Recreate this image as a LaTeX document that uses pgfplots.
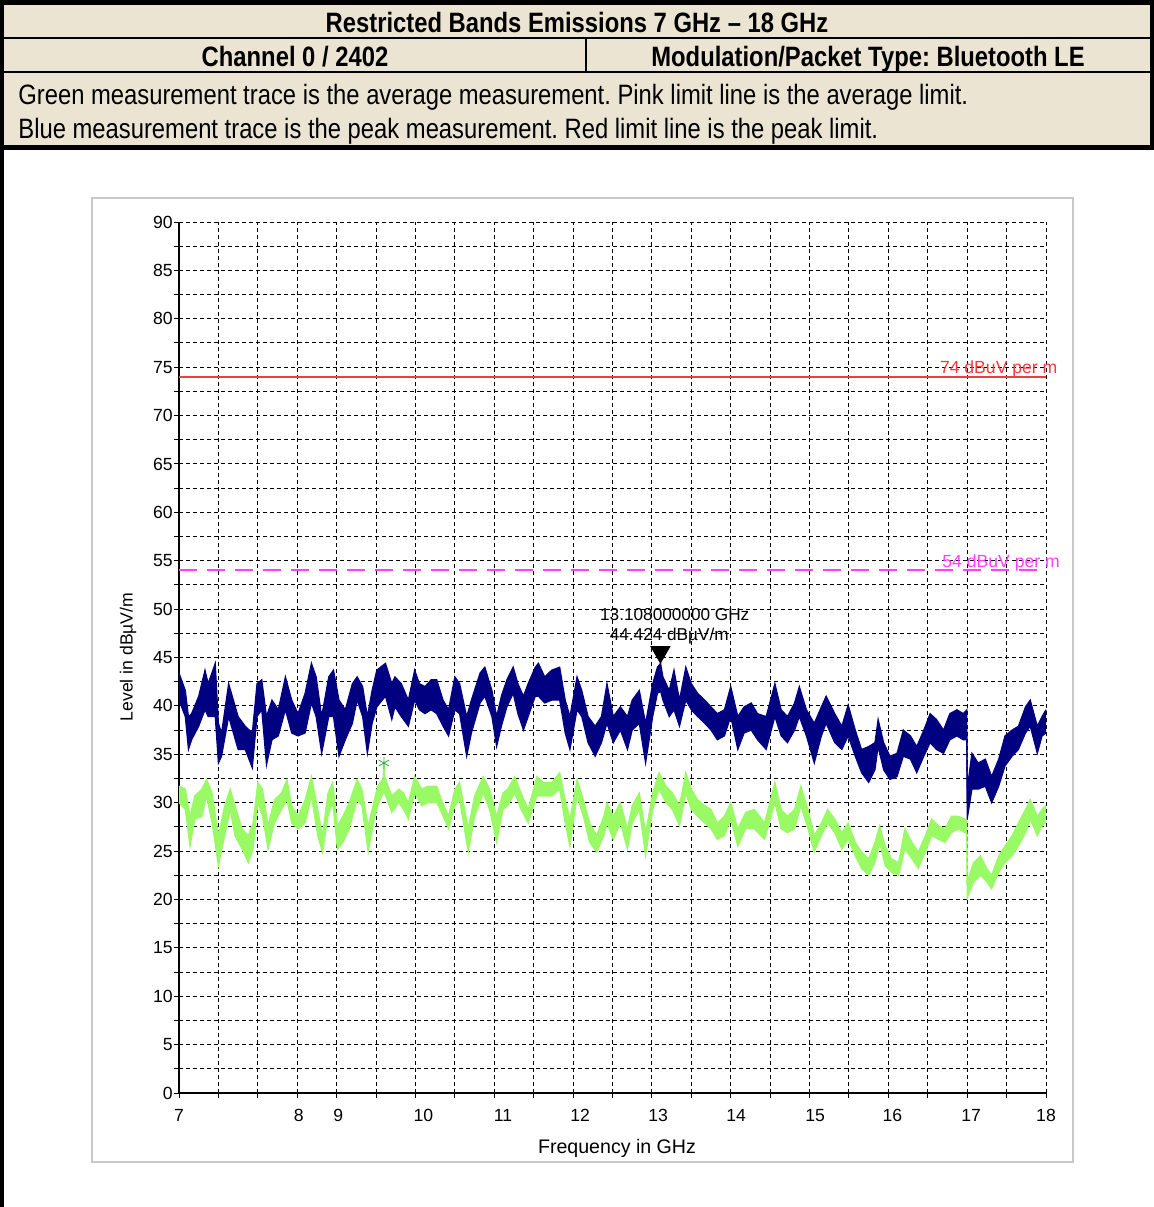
\documentclass[border=0pt]{standalone}
\usepackage{pgfplots}
\pgfplotsset{compat=1.18}
\usepackage{pgfplotstable}
\usepgfplotslibrary{fillbetween}
\usepackage{fontspec}
\setmainfont{Liberation Sans}
\newfontfamily\narrow[FakeStretch=0.85]{Liberation Sans}
\frenchspacing

\definecolor{hdr}{RGB}{236,228,210}
\definecolor{peakblue}{RGB}{0,0,128}
\definecolor{avggreen}{RGB}{153,250,102}
\definecolor{limred}{RGB}{240,60,60}
\definecolor{limpink}{RGB}{255,64,255}
\definecolor{framegray}{RGB}{200,200,200}
\definecolor{stargreen}{RGB}{60,170,60}

\pgfplotstableread{
x t b
7.00 43.4 40.6
7.08 41.6 38.9
7.12 38.9 35.5
7.16 39.2 36.5
7.25 41.0 37.9
7.33 43.7 39.6
7.37 42.3 38.9
7.46 44.4 38.9
7.50 38.2 34.1
7.54 37.2 34.8
7.63 42.3 38.9
7.69 40.6 37.2
7.75 38.9 35.5
7.84 37.9 35.5
7.93 37.2 33.6
7.99 42.3 38.9
8.05 42.7 39.6
8.11 38.9 33.9
8.18 40.6 36.5
8.26 39.6 36.9
8.35 43.0 39.6
8.43 40.6 37.2
8.51 39.2 36.9
8.60 41.3 37.2
8.68 44.4 40.3
8.74 43.0 38.9
8.81 38.9 35.1
8.90 43.0 38.9
8.96 43.7 38.9
9.03 40.6 34.8
9.11 39.6 36.5
9.20 42.3 38.2
9.26 43.0 40.6
9.33 42.0 38.9
9.39 38.9 35.1
9.45 41.6 38.2
9.51 43.7 39.9
9.62 44.4 41.0
9.70 42.3 38.6
9.74 43.0 39.9
9.82 42.3 38.9
9.91 40.6 37.9
9.99 43.7 40.6
10.05 42.3 39.6
10.12 42.0 39.2
10.20 42.7 39.6
10.27 42.7 39.2
10.35 40.6 37.9
10.42 39.6 36.9
10.50 43.0 39.6
10.56 42.3 39.2
10.65 38.9 34.8
10.71 40.6 37.2
10.82 43.4 40.3
10.88 44.0 41.0
10.97 41.6 38.9
11.03 38.9 35.8
11.09 41.0 37.9
11.16 42.7 39.9
11.24 44.0 41.3
11.30 42.3 39.2
11.37 41.0 37.5
11.43 42.3 38.9
11.52 44.0 41.0
11.56 44.4 41.0
11.64 43.0 40.3
11.73 43.7 40.6
11.83 44.0 40.6
11.90 40.6 37.2
11.96 38.9 35.5
12.05 43.0 39.6
12.11 41.6 38.9
12.19 38.9 36.2
12.28 37.9 34.8
12.36 38.9 36.2
12.43 42.3 38.2
12.51 38.9 36.2
12.60 39.9 37.5
12.69 38.9 35.5
12.75 40.6 37.5
12.84 41.6 38.2
12.92 38.2 34.1
13.01 42.3 38.9
13.07 44.0 41.3
13.11 44.4 41.5
13.14 43.0 40.6
13.22 41.6 38.9
13.28 43.7 39.6
13.35 40.6 37.9
13.43 44.0 40.6
13.50 42.3 39.6
13.58 41.3 38.9
13.67 40.6 38.2
13.75 39.9 37.5
13.83 39.2 36.5
13.92 39.6 36.9
14.00 42.0 38.9
14.09 38.9 35.5
14.17 39.9 37.2
14.26 40.3 37.5
14.34 39.2 36.5
14.45 38.9 35.5
14.56 42.3 38.9
14.64 39.6 36.9
14.72 38.9 36.2
14.81 40.3 37.5
14.87 42.0 38.9
14.96 39.6 36.9
15.06 38.2 34.1
15.15 39.9 36.9
15.21 41.0 38.2
15.32 39.2 36.2
15.41 37.9 35.5
15.49 40.1 36.9
15.58 37.5 34.8
15.66 35.5 33.1
15.75 35.8 32.1
15.83 36.2 33.4
15.87 38.6 35.8
15.94 36.2 33.4
16.02 34.8 32.4
16.11 35.1 32.7
16.19 37.5 34.8
16.28 36.9 34.5
16.36 35.8 33.1
16.45 37.5 34.8
16.53 39.2 36.2
16.61 38.6 35.5
16.70 37.5 35.1
16.78 39.2 36.5
16.87 39.6 36.9
16.95 39.2 36.5
16.995 39.6 36.5
17.00 31.4 28.3
17.06 35.1 31.4
17.14 34.1 31.4
17.23 34.5 31.7
17.31 32.7 30.0
17.40 34.5 31.7
17.48 36.9 33.8
17.57 37.5 34.8
17.65 37.9 35.5
17.74 39.9 37.2
17.80 40.6 37.9
17.89 37.9 35.1
17.95 38.9 36.9
18.00 39.6 37.2
}\peak

\pgfplotstableread{
x t b
7.00 31.7 30.0
7.08 31.4 29.3
7.14 28.6 25.5
7.20 30.7 28.3
7.29 31.4 28.6
7.35 32.4 30.7
7.42 31.0 27.9
7.50 26.6 23.5
7.58 29.7 26.6
7.65 31.4 29.3
7.71 29.7 26.6
7.80 27.3 25.2
7.88 26.6 23.8
7.94 27.9 25.2
8.00 32.1 30.0
8.06 31.4 28.6
8.13 27.6 25.2
8.21 30.3 27.9
8.30 31.0 29.3
8.37 32.4 30.3
8.43 29.7 27.9
8.51 28.6 27.3
8.60 30.3 27.9
8.68 32.7 30.7
8.76 29.3 26.6
8.82 26.6 24.9
8.89 31.0 28.6
8.95 32.1 30.0
9.01 27.6 25.2
9.08 28.6 25.9
9.16 30.0 27.3
9.26 32.4 30.3
9.32 31.4 29.7
9.40 27.6 24.9
9.47 30.0 28.0
9.52 31.7 29.7
9.59 32.5 31.0
9.60 34.1 31.0
9.61 32.7 31.0
9.70 30.7 29.0
9.79 31.4 30.0
9.85 31.0 29.3
9.91 30.0 28.3
9.99 32.7 31.0
10.08 31.4 29.7
10.16 31.7 30.0
10.27 31.7 30.0
10.33 30.3 29.0
10.42 28.6 27.3
10.50 31.4 29.7
10.56 32.1 30.3
10.67 27.3 24.9
10.75 30.7 28.6
10.86 32.7 31.0
10.94 31.4 29.3
11.03 28.6 25.9
11.11 31.0 29.3
11.17 31.4 29.7
11.26 32.7 31.0
11.34 31.0 29.3
11.43 29.3 27.9
11.54 32.7 30.7
11.62 32.1 30.7
11.73 32.1 30.7
11.83 33.1 31.4
11.90 30.3 27.9
11.96 28.3 25.5
12.05 32.4 30.7
12.13 30.3 28.6
12.21 27.9 25.9
12.30 26.6 24.9
12.39 28.6 26.6
12.43 30.0 27.9
12.51 28.6 26.2
12.60 30.0 27.9
12.69 27.3 25.2
12.75 29.7 27.9
12.84 31.0 29.3
12.92 26.9 24.5
13.01 31.0 29.3
13.09 33.1 31.4
13.18 31.7 30.0
13.26 31.0 29.3
13.35 29.7 27.6
13.43 33.1 31.0
13.50 31.4 29.3
13.58 30.3 28.6
13.67 29.7 27.9
13.75 29.3 27.3
13.83 27.9 26.2
13.92 28.6 26.6
14.00 30.0 28.3
14.09 27.3 25.5
14.19 29.0 27.3
14.30 29.3 27.3
14.43 27.9 26.2
14.56 32.1 30.0
14.64 29.3 27.3
14.72 28.6 26.9
14.81 29.3 27.3
14.89 31.7 29.7
14.98 29.3 27.3
15.06 26.6 24.9
15.15 27.9 26.6
15.23 29.3 27.9
15.32 28.3 26.9
15.41 26.9 25.2
15.49 27.9 26.2
15.58 25.9 24.5
15.66 24.9 23.2
15.75 24.2 22.5
15.83 25.9 23.8
15.89 27.6 25.9
15.96 25.5 23.5
16.04 24.2 22.8
16.13 23.8 22.5
16.21 27.3 25.2
16.30 25.9 24.2
16.38 24.9 23.2
16.47 26.6 24.9
16.55 28.3 26.6
16.64 27.6 26.2
16.72 27.3 25.9
16.80 28.6 26.9
16.89 28.6 27.3
16.97 28.3 26.9
16.995 28.3 26.9
17.00 21.8 20.1
17.08 23.8 21.8
17.17 24.5 22.5
17.25 23.2 21.8
17.31 22.5 21.1
17.40 24.5 22.8
17.48 25.5 23.8
17.57 26.6 24.5
17.65 27.9 25.5
17.74 29.3 26.9
17.80 30.3 28.3
17.89 28.6 26.6
17.95 29.3 27.6
18.00 29.7 28.0
}\avg

\begin{document}
\begin{tikzpicture}
\begin{scope}[x=0.5pt, y=-0.5pt]
\path[use as bounding box] (0,0) rectangle (1154,1207);
% header
\fill[hdr] (0,0) rectangle (1154,147);
\fill[black] (0,0) rectangle (1154,5);
\fill[black] (0,0) rectangle (4,1207);
\fill[black] (1150,0) rectangle (1154,150);
\fill[black] (0,145) rectangle (1154,150);
\fill[black] (0,37) rectangle (1154,39);
\fill[black] (0,71) rectangle (1154,73);
\fill[black] (585,37) rectangle (587,73);
\node[anchor=base, inner sep=0pt, font=\narrow\bfseries\fontsize{14}{16}\selectfont] at (577,32) {Restricted Bands Emissions 7 GHz – 18 GHz};
\node[anchor=base, inner sep=0pt, font=\narrow\bfseries\fontsize{14}{16}\selectfont] at (295,66) {Channel 0 / 2402};
\node[anchor=base, inner sep=0pt, font=\narrow\bfseries\fontsize{14}{16}\selectfont] at (868,66) {Modulation/Packet Type: Bluetooth LE};
\node[anchor=base west, inner sep=0pt, font=\narrow\fontsize{14}{16}\selectfont] at (18,104) {Green measurement trace is the average measurement. Pink limit line is the average limit.};
\node[anchor=base west, inner sep=0pt, font=\narrow\fontsize{14}{16}\selectfont] at (18,138) {Blue measurement trace is the peak measurement. Red limit line is the peak limit.};
% chart frame
\draw[framegray, line width=1pt] (92,198) rectangle (1073,1162);
\node[rotate=90, inner sep=0pt, font=\fontsize{8.8}{10}\selectfont] at (128,657) {Level in dBµV/m};
\node[inner sep=0pt, font=\fontsize{9.8}{11}\selectfont] at (617,1148) {Frequency in GHz};
\end{scope}

\begin{axis}[
  at={(89.5pt,-546.5pt)}, anchor=south west,
  width=433.5pt, height=435.5pt, scale only axis,
  xmin=7, xmax=18, ymin=0, ymax=90,
  axis lines=left, axis line style={-, line width=0.6pt, black},
  xtick={7,7.5,...,18},
  xticklabels={},
  extra x ticks={7,8.52,9.02,10.10,11.11,12.09,13.08,14.07,15.07,16.05,17.05,18},
  extra x tick labels={7,8,9,10,11,12,13,14,15,16,17,18},
  extra x tick style={grid=none, major tick length=0pt},
  ytick={0,5,...,90},
  minor ytick={2.5,7.5,...,87.5},
  grid=both,
  major grid style={black, dash pattern=on 2pt off 1.5pt, line width=0.5pt},
  minor grid style={black, dash pattern=on 2pt off 1.5pt, line width=0.5pt},
  tick style={black, line width=0.5pt},
  major tick length=2.5pt, minor tick length=2.5pt,
  tick align=outside,
  ticklabel style={font=\fontsize{8.8}{10}\selectfont},
  yticklabel style={inner sep=0.5pt},
  xticklabel style={yshift=-4.7pt},
  /pgf/number format/assume math mode=true,
  clip=false,
]
\addplot[name path=gt, draw=avggreen, line width=0.6pt] table[x=x,y=t]{\avg};
\addplot[name path=gb, draw=avggreen, line width=0.6pt] table[x=x,y=b]{\avg};
\addplot[avggreen] fill between[of=gt and gb];
\addplot[name path=bt, draw=peakblue, line width=0.6pt] table[x=x,y=t]{\peak};
\addplot[name path=bb, draw=peakblue, line width=0.6pt] table[x=x,y=b]{\peak};
\addplot[peakblue] fill between[of=bt and bb];

\addplot[limred, line width=1pt] coordinates {(7,74) (18,74)};
\addplot[limpink, line width=1pt, dash pattern=on 9pt off 5pt] coordinates {(7,54) (18,54)};

\addplot[only marks, mark=triangle*, mark size=5.5pt, mark options={black, fill=black, yshift=5.5pt, rotate=180}] coordinates {(13.108,44.424)};
\addplot[only marks, mark=asterisk, mark size=3pt, stargreen] coordinates {(9.6,34.1)};

\node[anchor=base, inner sep=0pt, text=limred, font=\fontsize{8.8}{10}\selectfont] at (axis cs:17.40,74) [yshift=1.5pt] {74 dBuV per m};
\node[anchor=base, inner sep=0pt, text=limpink, font=\fontsize{8.8}{10}\selectfont] at (axis cs:17.43,54) [yshift=1.5pt] {54 dBuV per m};
\node[inner sep=0pt, font=\fontsize{8.6}{10}\selectfont] at (axis cs:13.29,49.39) {13.108000000 GHz};
\node[inner sep=0pt, font=\fontsize{8.6}{10}\selectfont] at (axis cs:13.22,47.22) {44.424 dBµV/m};
\end{axis}
\end{tikzpicture}
\end{document}
